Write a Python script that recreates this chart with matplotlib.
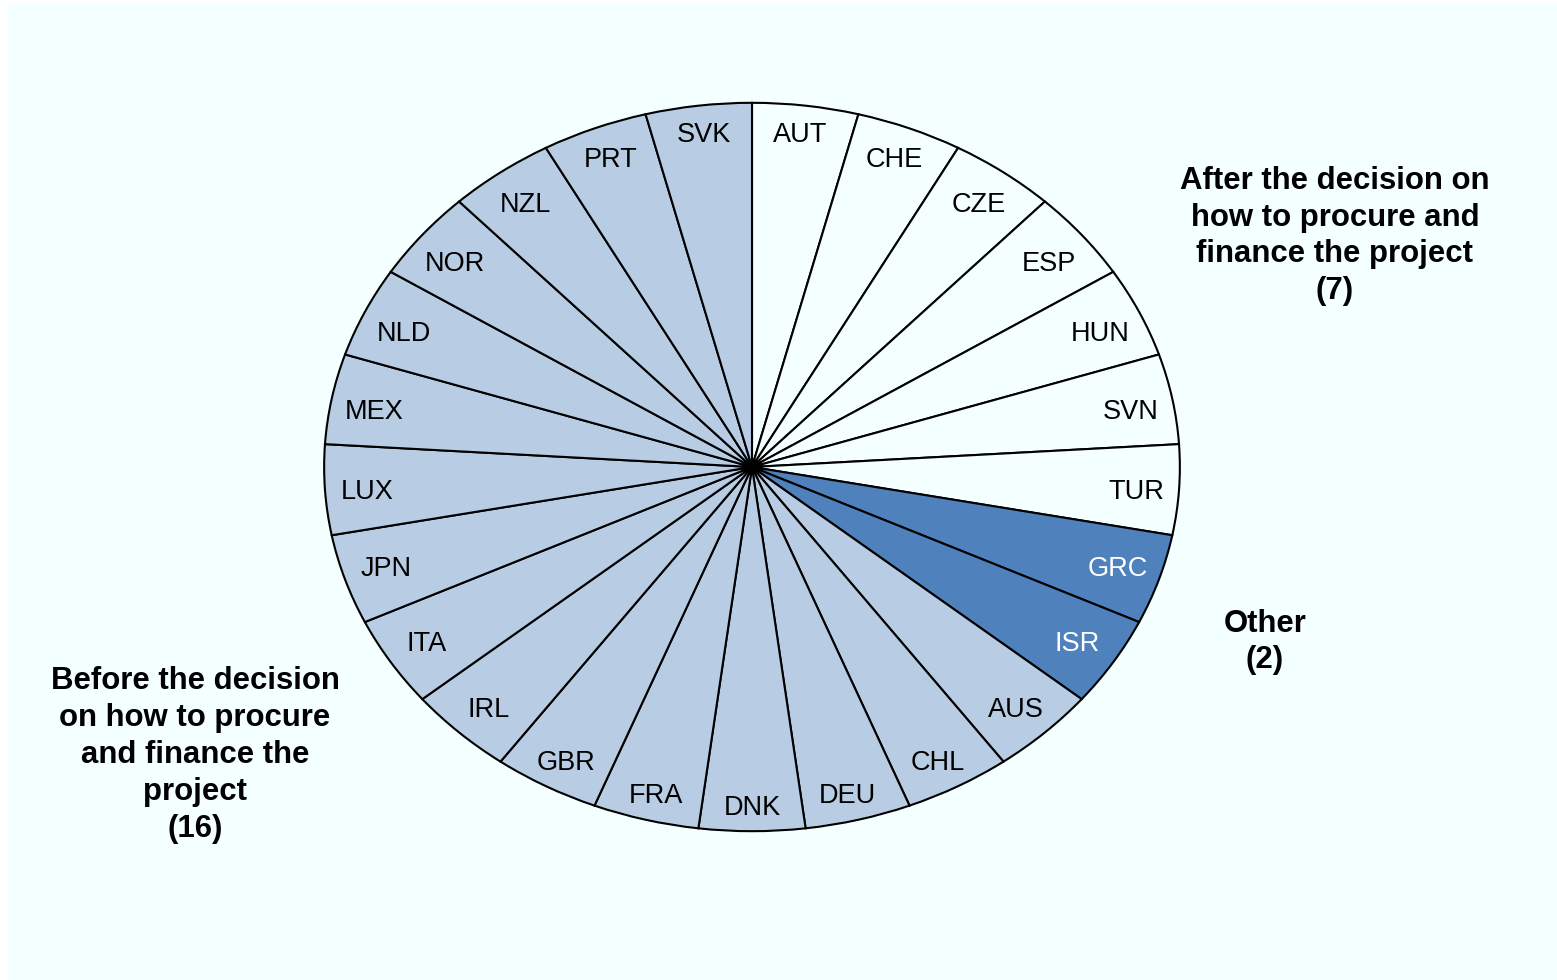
import numpy as np
import matplotlib.pyplot as plt
from matplotlib.patches import Rectangle

plt.rcParams['font.family'] = ['Liberation Sans', 'DejaVu Sans']

# countries, clockwise from the top
countries = ['AUT', 'CHE', 'CZE', 'ESP', 'HUN', 'SVN', 'TUR',
             'GRC', 'ISR',
             'AUS', 'CHL', 'DEU', 'DNK', 'FRA', 'GBR', 'IRL', 'ITA', 'JPN',
             'LUX', 'MEX', 'NLD', 'NOR', 'NZL', 'PRT', 'SVK']
groups = ['after'] * 7 + ['other'] * 2 + ['before'] * 16
counts = [1] * len(countries)

bg = '#F4FFFF'
group_colors = {'after': bg, 'other': '#4F81BD', 'before': '#B8CCE4'}
colors = [group_colors[g] for g in groups]

fig = plt.figure(figsize=(15.57, 9.8), dpi=100, facecolor='white')
fig.patches.append(Rectangle((8 / 1557, 0), 1, 1 - 3 / 980, transform=fig.transFigure,
                             facecolor=bg, edgecolor='none', zorder=-10))

ax = fig.add_axes([322 / 1557, (980 - 833) / 980, 860 / 1557, 732 / 980])
wedges, _ = ax.pie(counts, colors=colors, startangle=90, counterclock=False,
                   wedgeprops=dict(edgecolor='black', linewidth=1.5))

# country labels just inside the rim (offsets in pixels, 364 px per data unit)
px = 364.2
for w, name, g in zip(wedges, countries, groups):
    a = np.deg2rad((w.theta1 + w.theta2) / 2)
    s = np.sin(a)
    b = 325 + 16 * s ** 4 if s > 0 else 300 + 35 * abs(s)
    ax.text(0.9 * np.cos(a), (b * s - 6) / px, name, fontsize=19.5,
            ha='center', va='center', color='white' if g == 'other' else 'black')

ax.set_aspect('auto')
ax.set_xlim(-1.005, 1.005)
ax.set_ylim(-1.005, 1.005)
ax.axis('off')

bold = dict(fontsize=22.4, fontweight='bold', ha='center', va='center', linespacing=1.3)
fig.text(1335 / 1557, 1 - 236 / 980,
         'After the decision on\nhow to procure and\nfinance the project\n(7)', **bold)
fig.text(1265 / 1557, 1 - 642 / 980, 'Other\n(2)', **bold)
fig.text(195 / 1557, 1 - 755 / 980,
         'Before the decision\non how to procure\nand finance the\nproject\n(16)', **bold)

fig.savefig('out.png', dpi=100, facecolor='white')
